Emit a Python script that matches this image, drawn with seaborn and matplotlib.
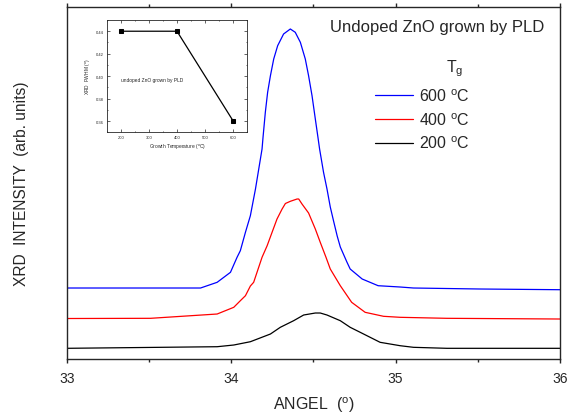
import numpy as np
import pandas as pd
import matplotlib
matplotlib.use("Agg")
import matplotlib.pyplot as plt
import seaborn as sns
from matplotlib.ticker import MultipleLocator, FormatStrFormatter

# XRD (002) peaks, arbitrary units
angle_600 = [33.0, 33.51, 33.814, 33.915, 33.996, 34.036, 34.056, 34.087, 34.117, 34.148,
             34.168, 34.188, 34.194, 34.208, 34.222, 34.239, 34.259, 34.283, 34.319, 34.36,
             34.39, 34.421, 34.451, 34.471, 34.492, 34.512, 34.528, 34.538, 34.562, 34.583,
             34.603, 34.623, 34.645, 34.664, 34.704, 34.724, 34.797, 34.894, 35.028, 35.109,
             35.514, 36.0]
inten_600 = [69, 69, 69, 74.7, 84.7, 99.7, 106.3, 124.7, 141.3, 168,
             188, 208, 219.7, 244.7, 264.7, 281.3, 298, 311.3, 323, 328,
             324.7, 314.7, 298, 281.3, 261.3, 238, 219.7, 208, 184.7, 168,
             150, 136, 121, 110, 95, 88, 78, 71.3, 70, 69,
             68, 67.3]

angle_400 = [33.0, 33.51, 33.915, 34.016, 34.056, 34.087, 34.117, 34.137, 34.188, 34.219,
             34.249, 34.279, 34.31, 34.33, 34.36, 34.401, 34.411, 34.431, 34.471, 34.512,
             34.542, 34.577, 34.603, 34.664, 34.733, 34.815, 34.927, 35.028, 35.312, 36.0]
inten_400 = [38.5, 38.7, 43, 49.7, 56.3, 61.3, 71, 74.7, 99.7, 111.3,
             124.7, 138, 148, 153.5, 155.7, 158, 158, 153, 144, 128,
             114.7, 99.7, 88, 71.3, 54.7, 44.7, 40.7, 39.7, 38.7, 38]

angle_200 = [33.0, 33.915, 34.016, 34.117, 34.239, 34.299, 34.38, 34.441, 34.512, 34.542,
             34.583, 34.664, 34.724, 34.785, 34.906, 35.028, 35.109, 35.312, 36.0]
inten_200 = [8.7, 10.3, 12, 15.3, 23, 29.7, 36.3, 42, 44, 44,
             42, 36.3, 29.7, 24.7, 14.7, 11.3, 9.7, 8.7, 8.7]

# inset: FWHM vs growth temperature
growth_temp = [200, 400, 600]
fwhm = [0.44, 0.44, 0.36]

sns.set_style("ticks")
plt.rcParams['font.family'] = ['Liberation Sans', 'DejaVu Sans']
plt.rcParams['mathtext.fontset'] = 'custom'
plt.rcParams['mathtext.rm'] = 'Liberation Sans'

fig = plt.figure(figsize=(5.76, 4.14), dpi=100)
ax = fig.add_axes([0.1158, 0.1304, 0.8564, 0.8503])

curves = [
    (angle_600, inten_600, "blue", "600 $^{\\rm o}$C"),
    (angle_400, inten_400, "red", "400 $^{\\rm o}$C"),
    (angle_200, inten_200, "black", "200 $^{\\rm o}$C"),
]
for xs, ys, col, lab in curves:
    df = pd.DataFrame({"angle": xs, "I": ys})
    sns.lineplot(data=df, x="angle", y="I", color=col, lw=0.9, label=lab, ax=ax, sort=False)

ax.set_xlim(33, 36)
ax.set_ylim(-2, 350)
ax.set_xticks([33, 34, 35, 36])
ax.xaxis.set_minor_locator(MultipleLocator(0.5))
ax.set_yticks([])
ax.tick_params(axis='x', which='major', direction='out', length=3, width=1,
               top=True, labelsize=10, pad=5.5)
ax.tick_params(axis='x', which='minor', direction='out', length=2, width=1, top=True)
for s in ax.spines.values():
    s.set_linewidth(1)
ax.set_xlabel(r"ANGEL  ($^{\rm o}$)", fontsize=11.5, labelpad=7)
ax.set_ylabel("XRD  INTENSITY  (arb. units)", fontsize=11.2, labelpad=27)

ax.text(0.968, 0.945, "Undoped ZnO grown by PLD", transform=ax.transAxes,
        ha='right', va='center', fontsize=12)
ax.text(0.768, 0.818, "T$_{\\rm g}$", transform=ax.transAxes,
        ha='left', va='baseline', fontsize=11.5)
leg = ax.legend(loc='upper left', bbox_to_anchor=(0.625, 0.772), borderaxespad=0,
                borderpad=0, frameon=False, fontsize=11.5, handlelength=2.4,
                handletextpad=0.35, labelspacing=0.45)

# inset
axi = fig.add_axes([0.1852, 0.678, 0.2441, 0.2713])
dfi = pd.DataFrame({"T": growth_temp, "FWHM": fwhm})
sns.lineplot(data=dfi, x="T", y="FWHM", color="black", lw=0.9, marker="s",
             markersize=3, markeredgecolor="black", ax=axi)
axi.set_xlim(150, 650)
axi.set_ylim(0.35, 0.45)
axi.set_xticks([200, 300, 400, 500, 600])
axi.set_yticks([0.36, 0.38, 0.40, 0.42, 0.44])
axi.yaxis.set_major_formatter(FormatStrFormatter('%.2f'))
axi.xaxis.set_minor_locator(MultipleLocator(50))
axi.yaxis.set_minor_locator(MultipleLocator(0.01))
axi.tick_params(which='both', direction='in', top=True, right=True, labelsize=3,
                pad=2, width=0.5)
axi.tick_params(which='major', length=2)
axi.tick_params(which='minor', length=1)
for s in axi.spines.values():
    s.set_linewidth(0.6)
axi.set_xlabel(r"Growth Temperature ($^{\rm o}$C)", fontsize=3.5, labelpad=2)
axi.set_ylabel(r"XRD  FWHM ($^{\rm o}$)", fontsize=3.5, labelpad=2)
axi.text(200, 0.397, "undoped ZnO grown by PLD", fontsize=3.5, ha='left', va='center')

fig.savefig("out.png", dpi=100)
